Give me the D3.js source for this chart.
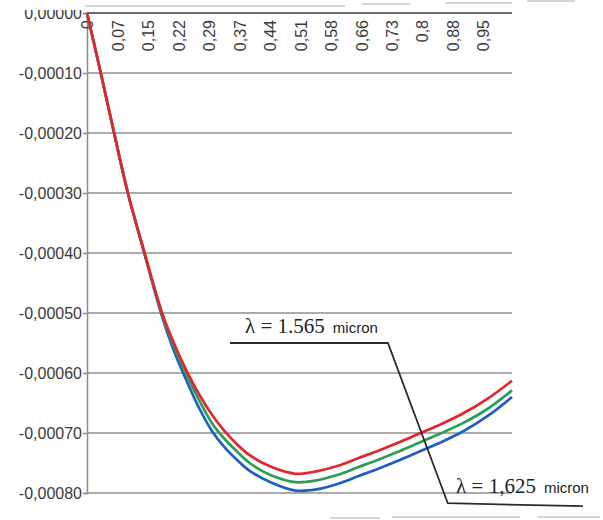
<!DOCTYPE html>
<html>
<head>
<meta charset="utf-8">
<script src="https://cdn.jsdelivr.net/npm/d3@7/dist/d3.min.js"></script>
<style>
  html, body { margin: 0; padding: 0; background: #fff; }
  svg { display: block; }
</style>
</head>
<body>
<svg id="chart" width="603" height="520"></svg>
<script>
// Relative coordinate along the fibre (shared by all three series)
const xValues = [0, 0.033, 0.065, 0.098, 0.138, 0.18, 0.21, 0.24, 0.27, 0.30, 0.33, 0.36, 0.39, 0.44,
                 0.50, 0.55, 0.60, 0.65, 0.70, 0.75, 0.80, 0.85, 0.90, 0.96, 1.019];

// Three wavelengths: red (1.565 µm), green (intermediate), blue (1.625 µm)
const redValues = [0, -0.000100, -0.000200, -0.000300, -0.000400, -0.000500, -0.000553, -0.000598,
                   -0.000637, -0.000670, -0.000697, -0.000719, -0.000737, -0.000756, -0.000768,
                   -0.000764, -0.000755, -0.000742, -0.000729, -0.000715, -0.000700, -0.000685,
                   -0.000668, -0.000643, -0.000613];
const greenValues = [0, -0.000100, -0.000200, -0.000300, -0.000400, -0.000502, -0.000558, -0.000605,
                     -0.000647, -0.000684, -0.000710, -0.000731, -0.000750, -0.000770, -0.000782,
                     -0.000779, -0.000770, -0.000757, -0.000744, -0.000730, -0.000715, -0.000700,
                     -0.000684, -0.000660, -0.000629];
const blueValues = [0, -0.000100, -0.000200, -0.000300, -0.000402, -0.000506, -0.000566, -0.000615,
                    -0.000660, -0.000697, -0.000724, -0.000745, -0.000763, -0.000782, -0.000796,
                    -0.000794, -0.000785, -0.000772, -0.000759, -0.000745, -0.000730, -0.000715,
                    -0.000698, -0.000672, -0.000640];

const seriesColors = ["#1f5fc4", "#2b9e55", "#e5252c"];

// Category tick labels along the top axis, spaced 0.0731 apart
const xTickStep = 0.0731;
const xTickLabels = ["0", "0,07", "0,15", "0,22", "0,29", "0,37", "0,44", "0,51",
                     "0,58", "0,66", "0,73", "0,8", "0,88", "0,95"];
const yTickValues = [0, -0.0001, -0.0002, -0.0003, -0.0004, -0.0005, -0.0006, -0.0007, -0.0008];
const yTickLabels = ["0,00000", "-0,00010", "-0,00020", "-0,00030", "-0,00040",
                     "-0,00050", "-0,00060", "-0,00070", "-0,00080"];

// Wavelength call-outs, placed in data units
const annotations = [
  { lambda: "λ = 1.565", unit: "micron", x: 0.379, y: -0.000533 },
  { lambda: "λ = 1,625", unit: "micron", x: 0.885, y: -0.0008 }
];
const leaderPoints = [[0.343, -0.00055], [0.7215, -0.00055], [0.865, -0.000817], [1.189, -0.000822]];

const svg = d3.select("#chart");
const plotLeft = 87, plotRight = 512, plotTop = 13, plotBottom = 493;

const x = d3.scaleLinear().domain([0, 1.019]).range([plotLeft, plotRight]);
const y = d3.scaleLinear().domain([0, -0.0008]).range([plotTop, plotBottom]);

// faint page edges from the scanned sheet
const edge = svg.append("g").attr("stroke", "#c8c8c8").attr("stroke-width", 1.5);
[[5, 5, 60], [85, 6, 345], [362, 4, 410], [445, 3, 512], [527, 1, 575]].forEach(([a, yy, b]) =>
  edge.append("line").attr("x1", a).attr("x2", b).attr("y1", yy).attr("y2", yy));
[[330, 518, 380], [392, 517, 520], [537, 517, 600]].forEach(([a, yy, b]) =>
  edge.append("line").attr("x1", a).attr("x2", b).attr("y1", yy).attr("y2", yy));

// horizontal gridlines and y axis
const yAxis = d3.axisLeft(y)
  .tickValues(yTickValues)
  .tickSize(4)
  .tickFormat((d, i) => yTickLabels[i]);
const yg = svg.append("g").attr("transform", `translate(${plotLeft},0)`).call(yAxis);
yg.select(".domain").attr("stroke", "#8a8a8a").attr("stroke-width", 1.5);
yg.selectAll(".tick line").attr("stroke", "#8a8a8a").attr("stroke-width", 1.5);
yg.selectAll(".tick text")
  .attr("x", -5)
  .attr("fill", "#3a3a3a")
  .style("font-family", "'Liberation Sans', Arial, sans-serif")
  .style("font-size", "16px");

svg.append("g").selectAll("line")
  .data(yTickValues.slice(1))
  .join("line")
  .attr("x1", plotLeft).attr("x2", plotRight)
  .attr("y1", d => y(d)).attr("y2", d => y(d))
  .attr("stroke", "#8f8f8f").attr("stroke-width", 1.5);

// top x axis with rotated category labels inside the plot
const xTicks = xTickLabels.map((_, i) => i * xTickStep);
const xAxis = d3.axisBottom(x)
  .tickValues(xTicks)
  .tickSize(0)
  .tickFormat((d, i) => xTickLabels[i]);
const xg = svg.append("g").attr("transform", `translate(0,${plotTop})`).call(xAxis);
xg.select(".domain").attr("stroke", "#6e6e6e").attr("stroke-width", 2)
  .attr("d", `M${plotLeft},0H${plotRight}`);
xg.selectAll(".tick text")
  .attr("transform", "rotate(-90)")
  .attr("x", -7).attr("y", 0).attr("dy", "0.35em")
  .attr("text-anchor", "end")
  .attr("fill", "#3a3a3a")
  .style("font-family", "'Liberation Sans', Arial, sans-serif")
  .style("font-size", "16px");

// top of the 0,00000 label is cut off by the sheet edge
svg.append("rect").attr("x", 0).attr("y", 0).attr("width", plotLeft - 2).attr("height", 10).attr("fill", "#fff");

// curves
const line = d3.line().x(d => x(d[0])).y(d => y(d[1])).curve(d3.curveCatmullRom.alpha(0.5));
[blueValues, greenValues, redValues].forEach((vals, i) => {
  svg.append("path")
    .datum(xValues.map((xv, j) => [xv, vals[j]]))
    .attr("fill", "none")
    .attr("stroke", seriesColors[i])
    .attr("stroke-width", 2.7)
    .attr("d", line);
});

// leader line joining the two call-outs
svg.append("path")
  .datum(leaderPoints)
  .attr("fill", "none")
  .attr("stroke", "#2a2a2a")
  .attr("stroke-width", 1.8)
  .attr("d", d3.line().x(d => x(d[0])).y(d => y(d[1])));

annotations.forEach(a => {
  const t = svg.append("text")
    .attr("x", x(a.x)).attr("y", y(a.y))
    .attr("fill", "#222");
  t.append("tspan")
    .style("font-family", "'Liberation Serif', 'Times New Roman', serif")
    .style("font-size", "21px")
    .text(a.lambda);
  t.append("tspan")
    .attr("dx", 8)
    .style("font-family", "'Liberation Sans', Arial, sans-serif")
    .style("font-size", "15px")
    .text(a.unit);
});
</script>
</body>
</html>
